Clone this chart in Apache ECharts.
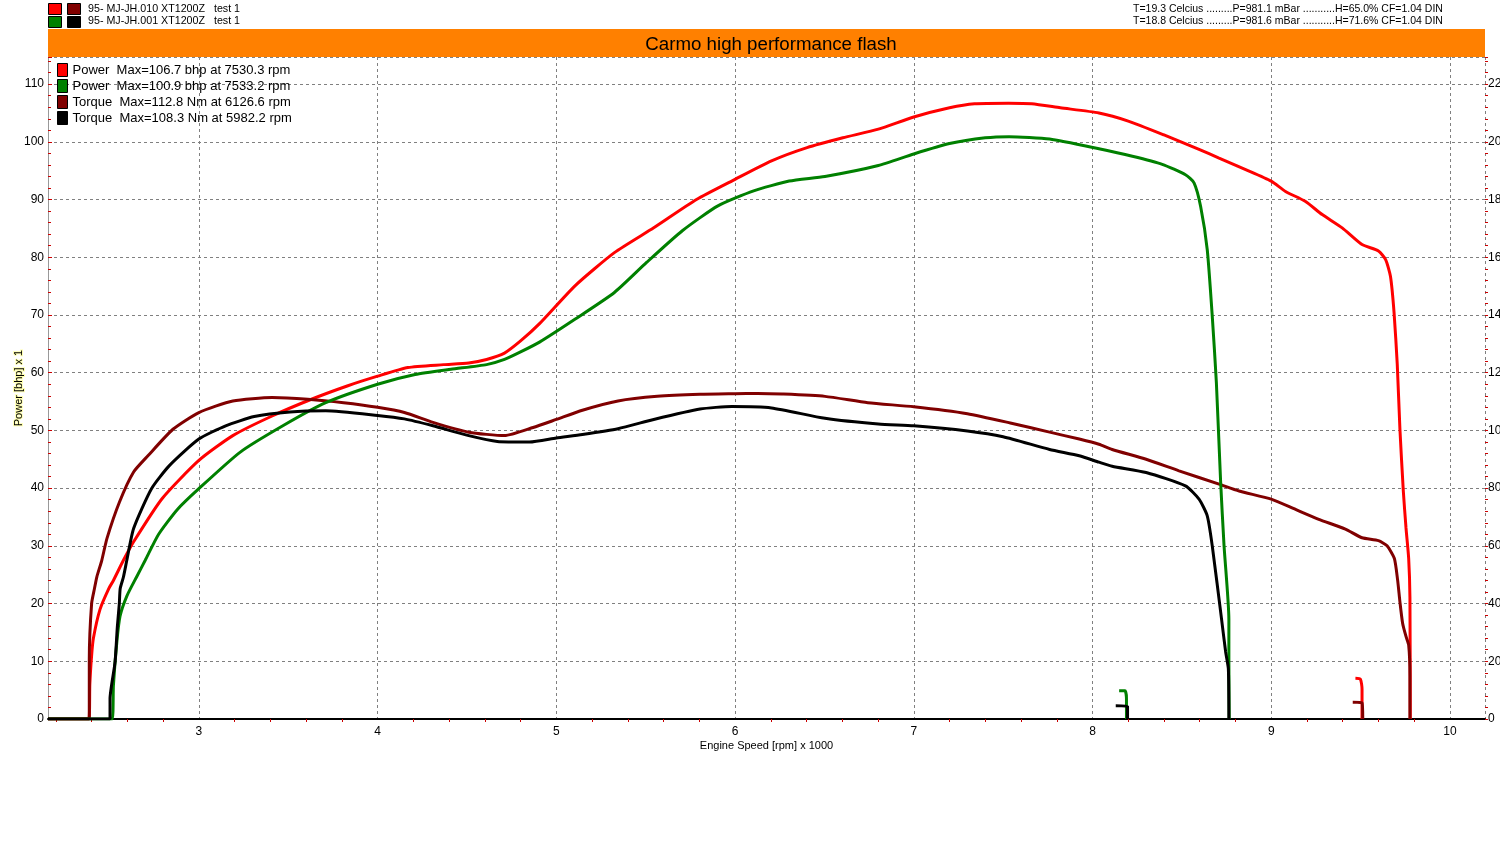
<!DOCTYPE html>
<html>
<head>
<meta charset="utf-8">
<script src="https://cdn.jsdelivr.net/npm/echarts@6/dist/echarts.min.js"></script>
<style>html,body{margin:0;padding:0;background:#fff}#c{width:1500px;height:850px}</style>
</head>
<body>
<div id="c"></div>
<script>
// ---- data (rpm x1000, power in bhp, torque in Nm) ----
const powerRunA = [[2.156,0],[2.385,0],[2.39,6],[2.40,11],[2.41,14],[2.447,19],[2.496,22.6],[2.522,24],[2.578,27.5],[2.635,30.7],[2.795,38.2],[3.0,44.8],[3.19,49.1],[3.41,52.5],[3.63,55.4],[3.83,57.7],[4.0,59.4],[4.17,60.9],[4.37,61.4],[4.51,61.7],[4.61,62.3],[4.71,63.4],[4.80,65.5],[4.906,68.5],[5.106,75.1],[5.325,80.8],[5.545,85.1],[5.784,90.0],[6.0,93.5],[6.204,96.7],[6.403,99.0],[6.603,100.7],[6.802,102.2],[7.0,104.3],[7.2,105.9],[7.34,106.6],[7.53,106.7],[7.66,106.6],[7.82,105.9],[8.036,105.0],[8.2,103.6],[8.4,101.2],[8.596,98.7],[8.708,97.2],[8.857,95.2],[9.0,93.2],[9.08,91.4],[9.19,89.7],[9.285,87.4],[9.397,85.1],[9.508,82.2],[9.60,81.1],[9.64,79.6],[9.667,76.7],[9.687,70.5],[9.705,61.5],[9.72,50.2],[9.739,39.5],[9.754,33.1],[9.769,27.8],[9.776,21.1],[9.778,0]];
const powerRunAStub = [[9.471,7.05],[9.499,6.9],[9.508,5.2],[9.508,0]];
const torqueRunA = [[2.156,0],[2.387,0],[2.387,20.6],[2.40,40],[2.416,45.2],[2.429,49.2],[2.457,55],[2.486,62.6],[2.556,75.2],[2.635,85.6],[2.715,91.2],[2.855,100.4],[3.0,106.2],[3.19,110.2],[3.41,111.4],[3.61,110.8],[3.81,109.6],[4.0,108.0],[4.15,106.2],[4.31,102.8],[4.51,99.4],[4.71,98.2],[4.87,101.0],[5.0,103.8],[5.146,107.0],[5.345,110.2],[5.565,111.8],[5.804,112.5],[6.0,112.7],[6.127,112.8],[6.263,112.6],[6.503,111.8],[6.743,109.6],[7.0,108.2],[7.3,105.8],[7.54,102.6],[7.76,99.4],[7.926,97.0],[8.036,95.2],[8.11,93.4],[8.30,90.0],[8.484,86.0],[8.708,81.4],[8.82,79.0],[9.0,76.2],[9.136,72.6],[9.266,69.2],[9.415,65.8],[9.508,62.8],[9.60,61.8],[9.648,60.0],[9.689,55.6],[9.707,48.2],[9.72,40.6],[9.735,33.2],[9.754,28.6],[9.769,25.6],[9.776,15.0],[9.776,0]];
const torqueRunAStub = [[9.456,5.8],[9.508,5.6],[9.512,0]];
const powerRunB = [[2.156,0],[2.515,0],[2.522,5.8],[2.541,13.3],[2.559,17.8],[2.597,21.3],[2.653,24.7],[2.70,27.5],[2.775,32.0],[2.88,36.3],[3.0,39.9],[3.23,46.2],[3.47,50.8],[3.71,54.8],[4.0,58.0],[4.21,59.7],[4.41,60.6],[4.61,61.4],[4.71,62.3],[4.80,63.6],[4.906,65.3],[5.106,69.3],[5.325,73.9],[5.505,79.1],[5.705,84.6],[5.904,88.9],[6.104,91.5],[6.303,93.2],[6.503,94.0],[6.802,95.9],[7.0,97.9],[7.2,99.7],[7.4,100.7],[7.533,100.9],[7.76,100.5],[8.036,98.8],[8.223,97.5],[8.39,96.1],[8.52,94.3],[8.568,92.9],[8.605,88.8],[8.642,81.3],[8.67,69.8],[8.693,58.3],[8.717,41.0],[8.736,30.0],[8.763,17.3],[8.763,9.8],[8.765,0]];
const powerRunBStub = [[8.149,4.9],[8.182,4.9],[8.19,3.5],[8.19,0]];
const torqueRunB = [[2.156,0],[2.503,0],[2.503,7],[2.531,19.6],[2.544,32],[2.555,40],[2.56,45.2],[2.578,49.2],[2.597,55],[2.635,66],[2.735,79.8],[2.835,87.8],[3.0,97.0],[3.15,101.6],[3.31,104.8],[3.51,106.4],[3.71,106.8],[4.0,105.2],[4.15,104.0],[4.31,101.6],[4.51,98.2],[4.67,96.2],[4.85,96.0],[5.0,97.4],[5.146,98.6],[5.345,100.6],[5.545,103.8],[5.804,107.4],[5.982,108.3],[6.204,107.8],[6.503,104.2],[6.802,102.2],[7.0,101.6],[7.3,99.8],[7.5,97.8],[7.76,93.4],[7.926,91.2],[8.036,89.0],[8.11,87.6],[8.30,85.4],[8.52,80.8],[8.596,76.2],[8.642,70.4],[8.67,60.0],[8.722,34.6],[8.745,23.2],[8.76,17.4],[8.763,0]];
const torqueRunBStub = [[8.13,4.6],[8.196,4.4],[8.196,0]];

const seriesNames = ['Power  Max=106.7 bhp at 7530.3 rpm','Power  Max=100.9 bhp at 7533.2 rpm','Torque  Max=112.8 Nm at 6126.6 rpm','Torque  Max=108.3 Nm at 5982.2 rpm'];
const runLabels = ['95- MJ-JH.010 XT1200Z   test 1','95- MJ-JH.001 XT1200Z   test 1'];
const conditionLabels = ['T=19.3 Celcius .........P=981.1 mBar ...........H=65.0% CF=1.04 DIN','T=18.8 Celcius .........P=981.6 mBar ...........H=71.6% CF=1.04 DIN'];
const chartTitle = 'Carmo high performance flash';
const xRange = [2.156, 10.196];
const powerMax = 114.7;

const colors = {pa:'#ff0000', pb:'#008000', ta:'#800000', tb:'#000000'};
const FONT = 'Liberation Sans, Arial, sans-serif';

function withStub(main, stub){ return main.concat([['-','-']], stub); }

function lineSeries(name, data, color, axisIdx){
  return {
    name, type:'line', data, yAxisIndex:axisIdx, showSymbol:false, symbol:'none',
    smooth:0.2, connectNulls:false, animation:false,
    lineStyle:{color, width:3}, itemStyle:{color},
    emphasis:{disabled:true}
  };
}

const chart = echarts.init(document.getElementById('c'));
chart.setOption({
  backgroundColor:'#fff',
  animation:false,
  title:{text:chartTitle, left:766, top:30, textAlign:'center',
    textStyle:{fontFamily:FONT, fontSize:18.7, fontWeight:'normal', color:'#000'}},
  grid:{left:48, right:15, top:57, bottom:131, containLabel:false, outerBoundsMode:'none'},
  legend:{
    data:seriesNames, orient:'vertical', left:57, top:63, padding:0,
    itemWidth:10, itemHeight:13, itemGap:2, icon:'rect',
    itemStyle:{borderColor:'#000', borderWidth:1},
    textStyle:{fontFamily:FONT, fontSize:13, color:'#000'},
    selectedMode:false
  },
  xAxis:{
    type:'value', min:xRange[0], max:xRange[1], splitNumber:8, minInterval:1, maxInterval:1,
    name:'Engine Speed [rpm] x 1000', nameLocation:'middle', nameGap:21, nameMoveOverlap:false,
    nameTextStyle:{fontFamily:FONT, fontSize:11, color:'#000'},
    axisLine:{show:true, lineStyle:{color:'#000', width:2}},
    axisTick:{show:false},
    minorTick:{show:true, splitNumber:5, length:3, lineStyle:{color:'#cc0000', width:1}},
    axisLabel:{fontFamily:FONT, fontSize:12, color:'#000', margin:7, showMinLabel:false, showMaxLabel:false},
    splitLine:{show:true, lineStyle:{color:'#808080', type:[3,3], width:1}}
  },
  yAxis:[
    {type:'value', min:0, max:powerMax, splitNumber:11, minInterval:10, maxInterval:10,
     name:'Power [bhp] x 1', nameLocation:'middle', nameGap:24, nameRotate:90, nameMoveOverlap:false,
     nameTextStyle:{fontFamily:FONT, fontSize:11, color:'#000', textBorderColor:'rgba(255,255,170,0.9)', textBorderWidth:2},
     axisLine:{show:true, lineStyle:{color:'#999', width:1}},
     axisTick:{show:true, inside:true, length:4, lineStyle:{color:'#cc0000'}},
     minorTick:{show:true, splitNumber:5, length:3, lineStyle:{color:'#cc0000', width:1}},
     axisLabel:{fontFamily:FONT, fontSize:12, color:'#000', margin:4, showMaxLabel:false},
     splitLine:{show:true, lineStyle:{color:'#808080', type:[3,3], width:1}}},
    {type:'value', min:0, max:powerMax*2, splitNumber:11, minInterval:20, maxInterval:20,
     position:'right',
     axisLine:{show:false},
     axisTick:{show:true, length:3, lineStyle:{color:'#cc0000'}},
     minorTick:{show:true, splitNumber:5, length:3, lineStyle:{color:'#cc0000', width:1}},
     axisLabel:{fontFamily:FONT, fontSize:12, color:'#000', margin:3, showMaxLabel:false},
     splitLine:{show:false}}
  ],
  graphic:[
    {type:'rect', left:48, top:29, shape:{width:1437, height:28}, style:{fill:'#ff8000'}, z:0, silent:true},
    {type:'rect', left:48, top:3, shape:{width:13, height:11}, style:{fill:colors.pa, stroke:'#000', lineWidth:1}},
    {type:'rect', left:67, top:3, shape:{width:13, height:11}, style:{fill:colors.ta, stroke:'#000', lineWidth:1}},
    {type:'rect', left:48, top:16, shape:{width:13, height:11}, style:{fill:colors.pb, stroke:'#000', lineWidth:1}},
    {type:'rect', left:67, top:16, shape:{width:13, height:11}, style:{fill:colors.tb, stroke:'#000', lineWidth:1}},
    {type:'text', left:88, top:4, style:{text:runLabels[0], font:'10.7px '+FONT, fill:'#000'}},
    {type:'text', left:88, top:16, style:{text:runLabels[1], font:'10.7px '+FONT, fill:'#000'}},
    {type:'text', left:1133, top:4, style:{text:conditionLabels[0], font:'10.5px '+FONT, fill:'#000'}},
    {type:'text', left:1133, top:16, style:{text:conditionLabels[1], font:'10.5px '+FONT, fill:'#000'}}
  ],
  series:[
    lineSeries(seriesNames[0], withStub(powerRunA, powerRunAStub), colors.pa, 0),
    lineSeries(seriesNames[2], withStub(torqueRunA, torqueRunAStub), colors.ta, 1),
    lineSeries(seriesNames[1], withStub(powerRunB, powerRunBStub), colors.pb, 0),
    lineSeries(seriesNames[3], withStub(torqueRunB, torqueRunBStub), colors.tb, 1)
  ]
});
</script>
</body>
</html>
